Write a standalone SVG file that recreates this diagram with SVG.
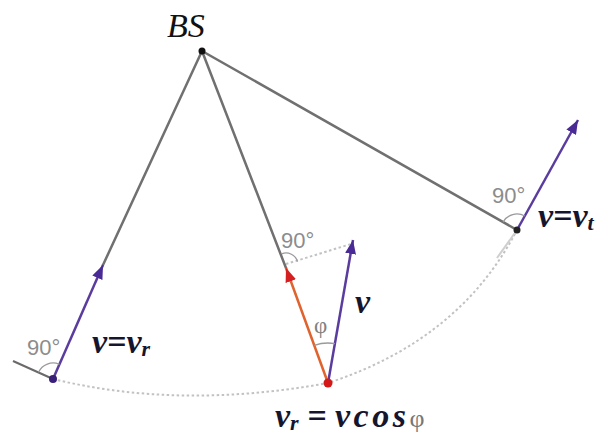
<svg xmlns="http://www.w3.org/2000/svg" width="605" height="436" viewBox="0 0 605 436">
<style>
.ray{stroke:#707070;stroke-width:2.5;fill:none;stroke-linecap:round}
.traj{stroke:#c2c2c2;stroke-width:2;fill:none;stroke-dasharray:2.5 2.5}
.tan{stroke:#6a6a6a;stroke-width:2;fill:none}
.vec{stroke:#5a3c9e;stroke-width:2.5;fill:none}
.red{stroke:#e0622c;stroke-width:2.5;fill:none}
.ang{stroke:#9a9a9a;stroke-width:1.3;fill:none}
.deg{font-family:"Liberation Sans",Arial,sans-serif;font-size:22px;fill:#8c8c8c}
.math{font-family:"Liberation Serif","Times New Roman",serif;font-style:italic;font-weight:bold;font-size:34px;fill:#15152e}
.sub{font-size:22px}
</style>
<defs>
<marker id="ap" markerUnits="userSpaceOnUse" markerWidth="14" markerHeight="11" refX="14" refY="5.5" orient="auto"><path d="M0,0 L14,5.5 L0,11 Z" fill="#4a2a94"/></marker>
<marker id="ar" markerUnits="userSpaceOnUse" markerWidth="14" markerHeight="11" refX="14" refY="5.5" orient="auto"><path d="M0,0 L14,5.5 L0,11 Z" fill="#d42020"/></marker>
</defs>
<g id="connectors">
<path class="traj" d="M53,379 Q180,410 328,383 Q460,340 517,230"/>
<line class="traj" x1="286" y1="264" x2="351" y2="244"/>
<line x1="517" y1="230" x2="497" y2="258" stroke="#cfcfcf" stroke-width="2"/>
<line class="tan" x1="13" y1="361" x2="53" y2="379"/>
<line class="ray" x1="202" y1="51" x2="103" y2="265"/>
<line class="ray" x1="202" y1="51" x2="286" y2="268"/>
<line class="ray" x1="202" y1="51" x2="517" y2="230"/>
<line class="vec" x1="53" y1="379" x2="103" y2="265" marker-end="url(#ap)"/>
<line class="vec" x1="517" y1="230" x2="578" y2="120" marker-end="url(#ap)"/>
<line class="vec" x1="328" y1="383" x2="353" y2="240" marker-end="url(#ap)"/>
<line class="red" x1="328" y1="383" x2="286" y2="268" marker-end="url(#ar)"/>
<path class="ang" d="M38.5,372.3 A16,16 0 0 1 59.4,364.3"/>
<path class="ang" d="M503.1,222.1 A16,16 0 0 1 524.8,216"/>
<path class="ang" d="M281.7,253.8 A12,12 0 0 1 297.5,261.6"/>
<path class="ang" d="M314.3,345.4 A40,40 0 0 1 334.9,343.6"/>
</g>
<g id="bs">
<circle cx="202" cy="51" r="3.5" fill="#111"/>
<text x="167" y="37" font-family="'Liberation Serif','Times New Roman',serif" font-style="italic" font-size="34" fill="#111">BS</text>
</g>
<g id="p-left">
<circle cx="53" cy="379" r="4" fill="#3a1f7a"/>
<text class="deg" x="27" y="355">90°</text>
<text class="math" x="92" y="353">v=v<tspan class="sub" dy="3">r</tspan></text>
</g>
<g id="p-mid">
<circle cx="328" cy="383" r="4.5" fill="#d41818"/>
<text class="deg" x="281" y="248">90°</text>
<text x="314" y="333" font-family="'Liberation Serif','Times New Roman',serif" font-size="23" fill="#808080">φ</text>
<text class="math" x="355" y="313">v</text>
<text class="math" x="275" y="427">v<tspan class="sub" dy="3">r</tspan><tspan dy="-3"> = </tspan><tspan letter-spacing="3.5">vcos</tspan><tspan font-style="normal" font-weight="normal" font-size="26" fill="#777">φ</tspan></text>
</g>
<g id="p-right">
<circle cx="517" cy="230" r="3.5" fill="#222"/>
<text class="deg" x="492" y="203">90°</text>
<text class="math" x="538" y="227">v=v<tspan class="sub" dy="3">t</tspan></text>
</g>
</svg>
